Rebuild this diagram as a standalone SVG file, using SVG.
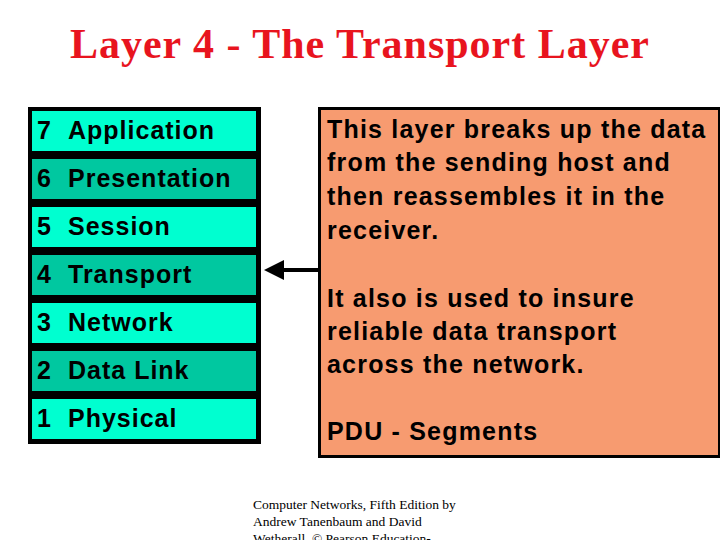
<svg xmlns="http://www.w3.org/2000/svg" width="720" height="540" viewBox="0 0 720 540">
<style>
.l{font-family:"Liberation Sans",Arial,sans-serif;font-weight:bold;font-size:25px;letter-spacing:1px;fill:#000}
.a{fill:#00FFD0}.b{fill:#00C8A0}
.r{font-family:"Liberation Sans",Arial,sans-serif;font-weight:bold;font-size:25px;letter-spacing:1.2px;fill:#000}
.c{font-family:"Liberation Serif","Times New Roman",serif;font-size:13.5px;fill:#000}
</style>
<defs><marker id="ah" markerWidth="5" markerHeight="5" refX="4" refY="2.5" orient="auto" markerUnits="strokeWidth"><path d="M0,0 L5,2.5 L0,5 z" fill="#000"/></marker></defs>
<rect width="720" height="540" fill="#fff"/>
<text x="360" y="58" text-anchor="middle" font-family="Liberation Serif,'Times New Roman',serif" font-weight="bold" font-size="42" letter-spacing="1" fill="#E8141E">Layer 4 - The Transport Layer</text>
<rect x="28" y="107" width="233" height="337" fill="#000"/>
<g id="l7"><rect class="a" x="32" y="111" width="224" height="40"/><text class="l" y="139"><tspan x="37">7</tspan><tspan x="68">Application</tspan></text></g>
<g id="l6"><rect class="b" x="32" y="159" width="224" height="40"/><text class="l" y="187"><tspan x="37">6</tspan><tspan x="68">Presentation</tspan></text></g>
<g id="l5"><rect class="a" x="32" y="207" width="224" height="40"/><text class="l" y="235"><tspan x="37">5</tspan><tspan x="68">Session</tspan></text></g>
<g id="l4"><rect class="b" x="32" y="255" width="224" height="40"/><text class="l" y="283"><tspan x="37">4</tspan><tspan x="68">Transport</tspan></text></g>
<g id="l3"><rect class="a" x="32" y="303" width="224" height="40"/><text class="l" y="331"><tspan x="37">3</tspan><tspan x="68">Network</tspan></text></g>
<g id="l2"><rect class="b" x="32" y="351" width="224" height="40"/><text class="l" y="379"><tspan x="37">2</tspan><tspan x="68">Data Link</tspan></text></g>
<g id="l1"><rect class="a" x="32" y="399" width="224" height="40"/><text class="l" y="427"><tspan x="37">1</tspan><tspan x="68">Physical</tspan></text></g>
<g id="desc"><rect x="319.5" y="108.5" width="400" height="348" fill="#F79B70" stroke="#000" stroke-width="3"/>
<text class="r"><tspan x="327" y="138">This layer breaks up the data</tspan><tspan x="327" y="171">from the sending host and</tspan><tspan x="327" y="205">then reassembles it in the</tspan><tspan x="327" y="239">receiver.</tspan><tspan x="327" y="307">It also is used to insure</tspan><tspan x="327" y="340">reliable data transport</tspan><tspan x="327" y="373">across the network.</tspan><tspan x="327" y="440">PDU - Segments</tspan></text></g>
<g id="connectors"><line x1="318" y1="270" x2="268" y2="270" stroke="#000" stroke-width="4" marker-end="url(#ah)"/></g>
<text class="c"><tspan x="253" y="509">Computer Networks, Fifth Edition by</tspan><tspan x="253" y="526">Andrew Tanenbaum and David</tspan><tspan x="253" y="543">Wetherall, © Pearson Education-</tspan></text>
</svg>
